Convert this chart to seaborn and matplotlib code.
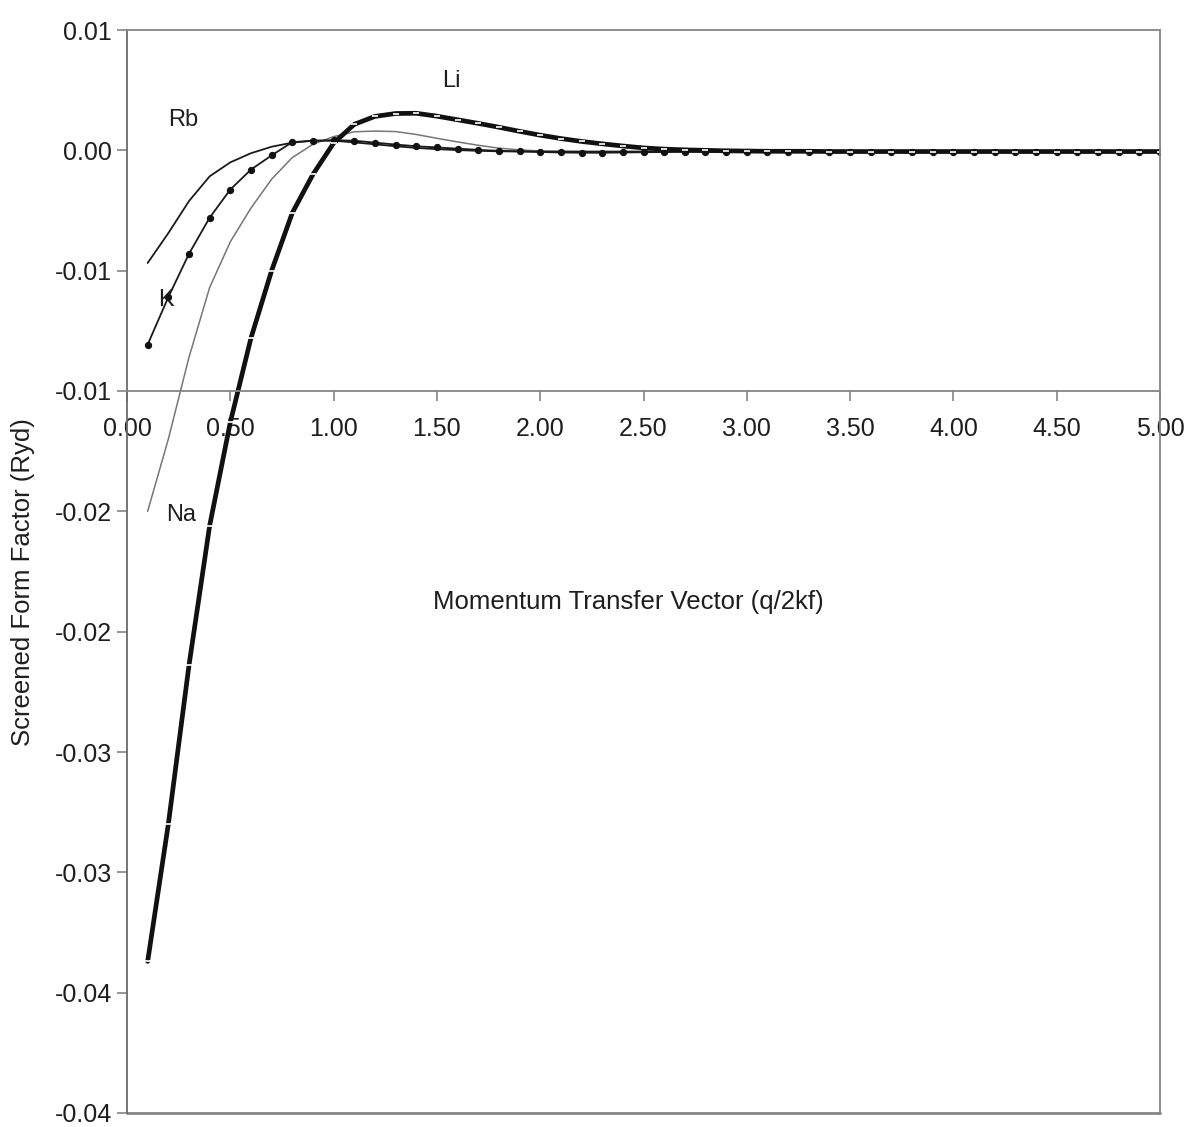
import matplotlib
matplotlib.use("Agg")
import matplotlib.pyplot as plt
import seaborn as sns
import pandas as pd

# Momentum transfer q/2kf sampled every 0.1
q = [0.1, 0.2, 0.3, 0.4, 0.5, 0.6, 0.7, 0.8, 0.9, 1.0,
     1.1, 1.2, 1.3, 1.4, 1.5, 1.6, 1.7, 1.8, 1.9, 2.0,
     2.1, 2.2, 2.3, 2.4, 2.5, 2.6, 2.7, 2.8, 2.9, 3.0,
     3.1, 3.2, 3.3, 3.4, 3.5, 3.6, 3.7, 3.8, 3.9, 4.0,
     4.1, 4.2, 4.3, 4.4, 4.5, 4.6, 4.7, 4.8, 4.9, 5.0]

# Screened form factors (Ryd)
li = [-0.0337, -0.0280, -0.0214, -0.0156, -0.0113, -0.0078, -0.0050, -0.0026, -0.0010, 0.0003,
      0.00108, 0.00141, 0.00153, 0.00154, 0.00142, 0.00127, 0.00112, 0.00096, 0.00079, 0.00063,
      0.00049, 0.00037, 0.00027, 0.00018, 0.00010, 0.00005, 0.00002, 0.0, -0.00002, -0.00003,
      -0.00004, -0.00004, -0.00004, -0.00005, -0.00005, -0.00005, -0.00005, -0.00005, -0.00005, -0.00005,
      -0.00005, -0.00005, -0.00005, -0.00005, -0.00005, -0.00005, -0.00005, -0.00005, -0.00005, -0.00005]
na = [-0.0150, -0.0120, -0.0086, -0.0057, -0.0038, -0.0024, -0.0012, -0.0003, 0.00025, 0.00057,
      0.00077, 0.00080, 0.00078, 0.00066, 0.00050, 0.00035, 0.00021, 0.00009, 0.00002, -0.00003,
      -0.00005, -0.00006, -0.00006, -0.00006, -0.00006, -0.00005, -0.00005, -0.00005, -0.00005, -0.00005,
      -0.00005, -0.00005, -0.00005, -0.00005, -0.00005, -0.00005, -0.00005, -0.00005, -0.00005, -0.00005,
      -0.00005, -0.00005, -0.00005, -0.00005, -0.00005, -0.00005, -0.00005, -0.00005, -0.00005, -0.00005]
k = [-0.00807, -0.0061, -0.0043, -0.0028, -0.00163, -0.0008, -0.00021, 0.00034, 0.00040, 0.00042,
     0.00040, 0.00032, 0.00024, 0.00017, 0.00012, 0.00007, 0.00002, -0.00002, -0.00004, -0.00007,
     -0.00009, -0.00010, -0.00010, -0.00009, -0.00008, -0.00007, -0.00006, -0.00006, -0.00005, -0.00005,
     -0.00005, -0.00005, -0.00005, -0.00005, -0.00005, -0.00005, -0.00005, -0.00005, -0.00005, -0.00005,
     -0.00005, -0.00005, -0.00005, -0.00005, -0.00005, -0.00005, -0.00005, -0.00005, -0.00005, -0.00005]
rb = [-0.00468, -0.00344, -0.00211, -0.00108, -0.00050, -0.00012, 0.00015, 0.00032, 0.00040, 0.00040,
      0.00033, 0.00025, 0.00017, 0.00010, 0.00005, 0.00001, -0.00002, -0.00004, -0.00005, -0.00005,
      -0.00005, -0.00005, -0.00005, -0.00005, -0.00005, -0.00005, -0.00005, -0.00005, -0.00005, -0.00005,
      -0.00005, -0.00005, -0.00005, -0.00005, -0.00005, -0.00005, -0.00005, -0.00005, -0.00005, -0.00005,
      -0.00005, -0.00005, -0.00005, -0.00005, -0.00005, -0.00005, -0.00005, -0.00005, -0.00005, -0.00005]

# Axis ticks and their (two-decimal) labels
y_ticks = [0.005, 0.0, -0.005, -0.010, -0.015, -0.020, -0.025, -0.030, -0.035, -0.040]
y_tick_labels = ["0.01", "0.00", "-0.01", "-0.01", "-0.02", "-0.02", "-0.03", "-0.03", "-0.04", "-0.04"]
x_ticks = [0.0, 0.5, 1.0, 1.5, 2.0, 2.5, 3.0, 3.5, 4.0, 4.5, 5.0]
x_tick_labels = ["0.00", "0.50", "1.00", "1.50", "2.00", "2.50", "3.00", "3.50", "4.00", "4.50", "5.00"]

# Curve labels placed beside each curve
names = ["Rb", "K", "Na", "Li"]
name_x = [0.27, 0.19, 0.26, 1.57]
name_y = [0.00125, -0.0062, -0.01515, 0.0029]

df = pd.DataFrame({"q": q, "Li": li, "Na": na, "K": k, "Rb": rb})

sns.set_theme(style="white")
plt.rcParams["font.family"] = ["Liberation Sans", "DejaVu Sans"]

fig = plt.figure(figsize=(11.85, 11.27), dpi=100)
ax = fig.add_axes([127 / 1185, 1 - 1113 / 1127, 1033 / 1185, 1083 / 1127])

frame = "#858585"
txt = "#1e1e1e"

sns.lineplot(data=df, x="q", y="Na", ax=ax, color="#767676", lw=1.1, sort=False)
sns.lineplot(data=df, x="q", y="Rb", ax=ax, color="#1a1a1a", lw=1.3, sort=False)
sns.lineplot(data=df, x="q", y="K", ax=ax, color="#1a1a1a", lw=1.3, sort=False,
             marker="o", markersize=4.5, markerfacecolor="#111111", markeredgecolor="#111111")
sns.lineplot(data=df, x="q", y="Li", ax=ax, color="#111111", lw=3.4, sort=False,
             marker="_", markersize=5, markeredgecolor="white", markeredgewidth=1.2)

for n, tx, ty in zip(names, name_x, name_y):
    ax.text(tx, ty, n, ha="center", va="center", fontsize=17, color=txt)

ax.set_xlim(0, 5)
ax.set_ylim(-0.04, 0.005)

# Horizontal axis crosses at -0.01; the plot area keeps a full border
ax.spines["bottom"].set_position(("data", -0.01))
for s in ax.spines.values():
    s.set_color(frame)
    s.set_linewidth(1.3)
ax.spines["left"].set_color("#6a6a6a")
ax.axhline(-0.04, color=frame, lw=2.0, clip_on=False)

ax.set_yticks(y_ticks)
ax.set_yticklabels(y_tick_labels)
ax.set_xticks(x_ticks)
ax.set_xticklabels(x_tick_labels)
ax.tick_params(axis="y", direction="out", length=7, width=1.2, color=frame,
               labelsize=18, pad=4, left=True, labelcolor=txt)
ax.tick_params(axis="x", direction="out", length=7, width=1.2, color=frame,
               labelsize=18, pad=12, bottom=True, labelcolor=txt)

ax.set_xlabel("Momentum Transfer Vector (q/2kf)", fontsize=18.5, color=txt)
ax.xaxis.set_label_coords(0.485, 0.483)
ax.set_ylabel("Screened Form Factor (Ryd)", fontsize=18.5, color=txt)
ax.yaxis.set_label_coords(-0.089, 0.49)

fig.savefig("out.png", dpi=100, facecolor="white")
